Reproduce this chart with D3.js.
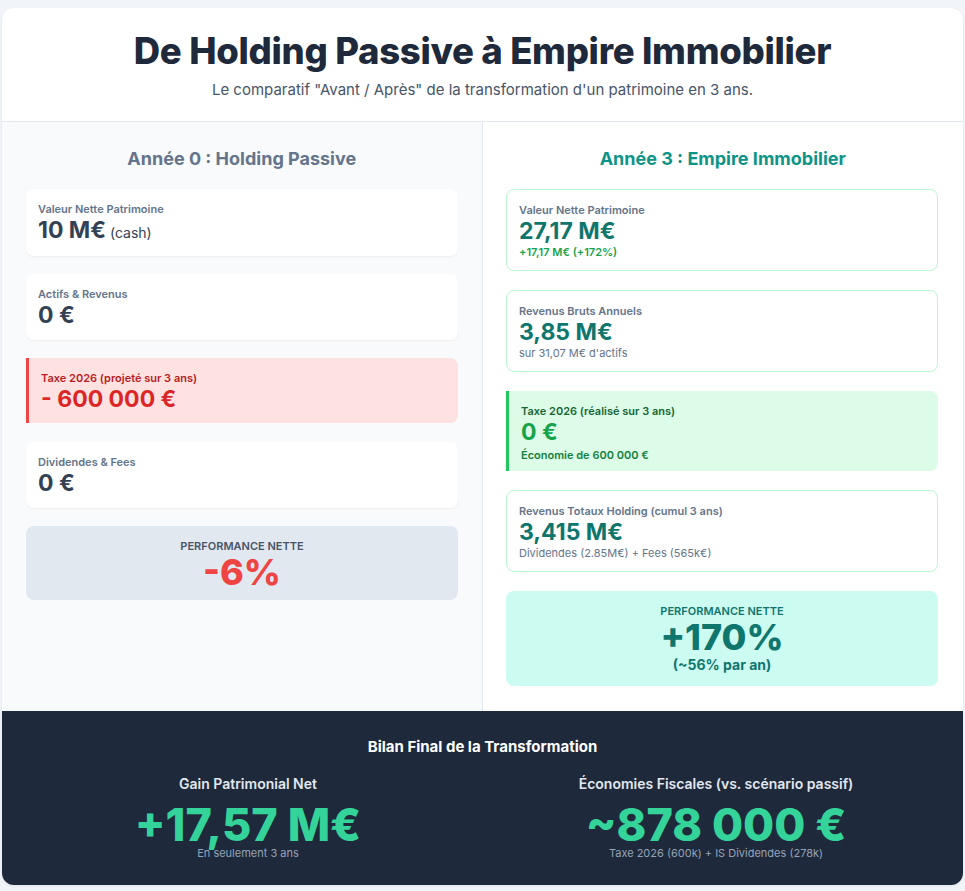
<!DOCTYPE html>
<html><head><meta charset="utf-8">
<script src="https://cdn.jsdelivr.net/npm/d3@7"></script>
<style>
body{margin:0;background:#f1f5f9;font-family:Inter,"Noto Sans",sans-serif;}
#wrap{position:absolute;left:2px;top:8px;width:961px;height:877px;background:#fff;border-radius:12px;overflow:hidden;box-shadow:0 1px 3px rgba(0,0,0,.08);}
.hdr{height:114px;border-bottom:1px solid #e2e8f0;text-align:center;box-sizing:border-box;}
.hdr h1{margin:0;padding-top:21px;font-size:36.5px;font-weight:800;color:#1e293b;letter-spacing:-0.3px;}
.hdr p{margin:7px 0 0;font-size:15px;color:#475569;}
.cols{display:flex;height:589px;}
.col{width:50%;box-sizing:border-box;padding:0 24px;}
.col.l{background:#f8fafc;border-right:1px solid #e2e8f0;}
.col h2{margin:26px 0 19px;text-align:center;font-size:18px;font-weight:700;}
.card{position:absolute;box-sizing:border-box;border-radius:8px;padding:13px 12px;}
.lab{font-size:11px;font-weight:600;color:#64748b;}
.val{font-size:23px;font-weight:700;color:#334155;line-height:27px;margin-top:1px;}
.sub{font-size:11px;color:#64748b;}
.ftr{position:absolute;left:0;top:703px;width:961px;height:174px;background:#1e293b;color:#fff;}
</style></head><body>
<div id="wrap"></div>
<script>
const title = 'De Holding Passive à Empire Immobilier';
const subtitle = 'Le comparatif "Avant / Après" de la transformation d\'un patrimoine en 3 ans.';
const leftTitle = 'Année 0 : Holding Passive';
const rightTitle = 'Année 3 : Empire Immobilier';
const leftCards = [
  {label:'Valeur Nette Patrimoine', value:'10 M€', extra:'(cash)', kind:'plain'},
  {label:'Actifs & Revenus', value:'0 €', kind:'plain'},
  {label:'Taxe 2026 (projeté sur 3 ans)', value:'- 600 000 €', kind:'bad'},
  {label:'Dividendes & Fees', value:'0 €', kind:'plain'}
];
const rightCards = [
  {label:'Valeur Nette Patrimoine', value:'27,17 M€', note:'+17,17 M€ (+172%)', kind:'good'},
  {label:'Revenus Bruts Annuels', value:'3,85 M€', note:'sur 31,07 M€ d\'actifs', kind:'good'},
  {label:'Taxe 2026 (réalisé sur 3 ans)', value:'0 €', note:'Économie de 600 000 €', kind:'win'},
  {label:'Revenus Totaux Holding (cumul 3 ans)', value:'3,415 M€', note:'Dividendes (2.85M€) + Fees (565k€)', kind:'good'}
];
const perf = [
  {value:'-6%', sub:null, bg:'#e2e8f0', color:'#ef4444', lab:'#475569'},
  {value:'+170%', sub:'(~56% par an)', bg:'#ccfbf1', color:'#0f766e', lab:'#0f766e'}
];
const footerItems = [
  {head:'Gain Patrimonial Net', value:'+17,57 M€', cap:'En seulement 3 ans'},
  {head:'Économies Fiscales (vs. scénario passif)', value:'~878 000 €', cap:'Taxe 2026 (600k) + IS Dividendes (278k)'}
];
// card vertical positions (top, height) relative to wrap
const leftY = [[181,67],[266,66],[350,65],[434,66]];
const rightY = [[181,82],[282,82],[383,80],[482,82]];
const perfY = [[518,74],[583,95]];

const wrap = d3.select('#wrap');
const hdr = wrap.append('div').attr('class','hdr');
hdr.append('h1').text(title);
hdr.append('p').text(subtitle);

const cols = wrap.append('div').attr('class','cols');
cols.append('div').attr('class','col l').append('h2').style('color','#64748b').text(leftTitle);
cols.append('div').attr('class','col r').append('h2').style('color','#0d9488').text(rightTitle);

const styles = {
  plain:{bg:'#fff', border:'none', lab:'#64748b', val:'#334155', note:'#64748b', shadow:'0 1px 2px rgba(0,0,0,.05)'},
  bad:{bg:'#fee2e2', border:'none', left:'3px solid #ef4444', lab:'#b91c1c', val:'#dc2626'},
  good:{bg:'#fff', border:'1px solid #bbf7d0', lab:'#64748b', val:'#0f766e', note:'#64748b'},
  win:{bg:'#dcfce7', border:'none', left:'3px solid #22c55e', lab:'#166534', val:'#16a34a', note:'#15803d'}
};

function drawCards(data, ys, x0) {
  wrap.selectAll(null).data(data).enter().append('div').attr('class','card')
    .each(function(d,i){
      const s = styles[d.kind];
      const el = d3.select(this)
        .style('left', x0+'px').style('top', ys[i][0]+'px')
        .style('width','432px').style('height', ys[i][1]+'px')
        .style('background', s.bg).style('border', s.border)
        .style('box-shadow', s.shadow || 'none');
      if (s.left) el.style('border-left', s.left).style('border-radius','0 8px 8px 0').style('padding-left','12px');
      el.append('div').attr('class','lab').style('color', s.lab).text(d.label);
      const v = el.append('div').attr('class','val').style('color', s.val).text(d.value);
      if (d.extra) v.append('span').style('font-size','14px').style('font-weight',400).text(' '+d.extra);
      if (d.note) {
        const good = i === 0 && d.kind === 'good';
        el.append('div').attr('class','sub')
          .style('color', good ? '#16a34a' : s.note)
          .style('font-weight', (good || d.kind==='win') ? 600 : 400)
          .style('margin-top', d.kind==='win' ? '2px' : '0').text(d.note);
      }
    });
}
drawCards(leftCards, leftY, 24);
drawCards(rightCards, rightY, 504);

wrap.selectAll(null).data(perf).enter().append('div').attr('class','card')
  .style('left',(d,i)=>(i?504:24)+'px').style('top',(d,i)=>perfY[i][0]+'px')
  .style('width','432px').style('height',(d,i)=>perfY[i][1]+'px')
  .style('background',d=>d.bg).style('text-align','center').style('padding-top','13px')
  .each(function(d){
    const el = d3.select(this);
    el.append('div').style('font-size','11px').style('font-weight',600).style('color',d.lab).text('PERFORMANCE NETTE');
    el.append('div').style('font-size','36px').style('font-weight',800).style('line-height','38px').style('color',d.color).text(d.value);
    if (d.sub) el.append('div').style('font-size','14px').style('font-weight',700).style('color',d.lab).text(d.sub);
  });

const ftr = wrap.append('div').attr('class','ftr');
ftr.append('div').style('position','absolute').style('top','26px').style('width','100%')
  .style('text-align','center').style('font-size','15px').style('font-weight',700).text('Bilan Final de la Transformation');
const x = d3.scalePoint().domain(footerItems.map(d=>d.head)).range([246,714]);
ftr.selectAll(null).data(footerItems).enter().append('div')
  .style('position','absolute').style('top','64px').style('width','460px')
  .style('left',d=>(x(d.head)-230)+'px').style('text-align','center')
  .each(function(d){
    const el = d3.select(this);
    el.append('div').style('font-size','14px').style('font-weight',600).style('color','#e2e8f0').text(d.head);
    el.append('div').style('font-size','45px').style('font-weight',800).style('line-height','48px')
      .style('margin-top','9px').style('color','#34d399').text(d.value);
    el.append('div').style('font-size','11px').style('color','#94a3b8').style('margin-top','-3px').text(d.cap);
  });
</script></body></html>
